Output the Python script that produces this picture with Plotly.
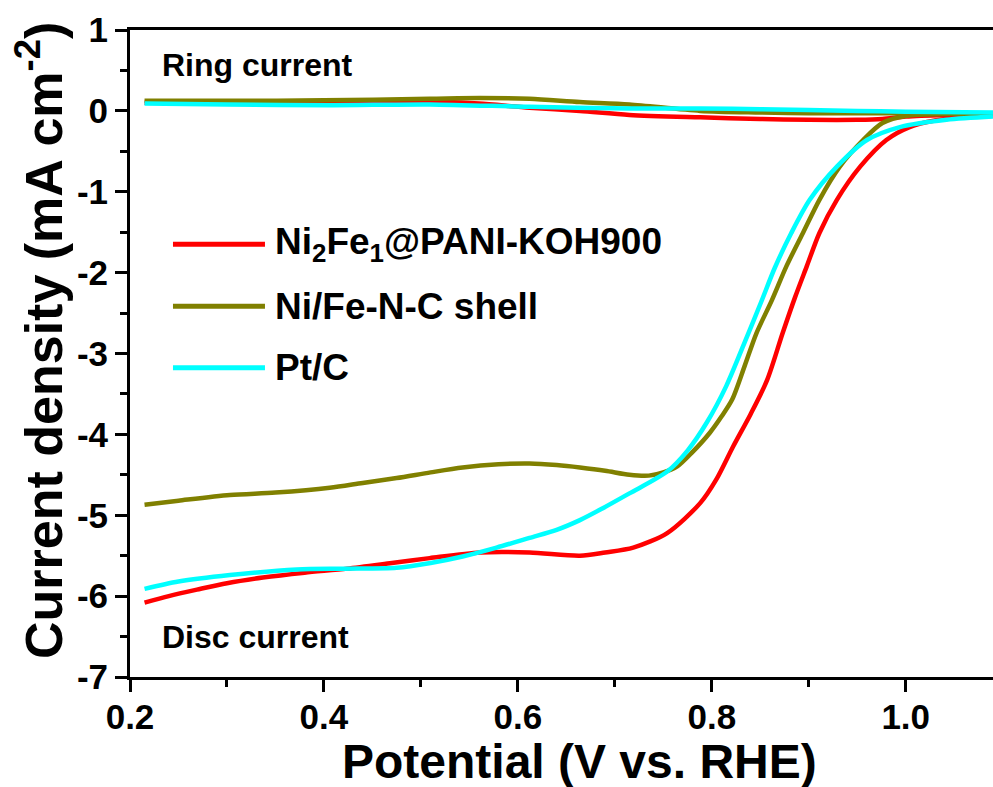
import plotly.graph_objects as go

# ---------------- data ----------------
red_disc_x = [0.215, 0.24, 0.269, 0.30, 0.337, 0.38, 0.424, 0.47, 0.509, 0.561, 0.612, 0.664, 0.69, 0.719,
              0.754, 0.788, 0.805, 0.822, 0.84, 0.857, 0.873, 0.886, 0.898, 0.911, 0.929, 0.953, 0.980,
              1.004, 1.03, 1.06, 1.09]
red_disc_y = [-6.08, -6.00, -5.92, -5.84, -5.77, -5.71, -5.66, -5.59, -5.53, -5.46, -5.46, -5.50, -5.46, -5.40,
              -5.22, -4.85, -4.55, -4.15, -3.75, -3.33, -2.75, -2.30, -1.92, -1.51, -1.10, -0.69, -0.36,
              -0.20, -0.12, -0.08, -0.06]

olive_disc_x = [0.215, 0.25, 0.303, 0.35, 0.406, 0.44, 0.475, 0.51, 0.543, 0.58, 0.612, 0.64, 0.664, 0.69,
                0.715, 0.735, 0.75, 0.764, 0.78, 0.798, 0.81, 0.821, 0.834, 0.846, 0.862, 0.877, 0.894,
                0.911, 0.932, 0.956, 0.976, 1.001, 1.04, 1.09]
olive_disc_y = [-4.87, -4.82, -4.75, -4.72, -4.66, -4.60, -4.54, -4.47, -4.41, -4.37, -4.36, -4.38, -4.41, -4.45,
                -4.50, -4.51, -4.47, -4.40, -4.22, -3.98, -3.78, -3.57, -3.15, -2.75, -2.34, -1.92, -1.51,
                -1.10, -0.69, -0.36, -0.15, -0.06, -0.04, -0.03]

cyan_disc_x = [0.215, 0.25, 0.303, 0.372, 0.42, 0.475, 0.51, 0.543, 0.578, 0.612, 0.64, 0.664, 0.685, 0.715,
               0.754, 0.775, 0.795, 0.815, 0.836, 0.851, 0.865, 0.882, 0.901, 0.929, 0.960, 0.994, 1.042, 1.09]
cyan_disc_y = [-5.91, -5.82, -5.74, -5.67, -5.66, -5.65, -5.59, -5.51, -5.40, -5.28, -5.18, -5.06, -4.93, -4.73,
               -4.46, -4.20, -3.85, -3.40, -2.80, -2.36, -1.94, -1.51, -1.10, -0.69, -0.36, -0.20, -0.11, -0.07]

red_ring_x = [0.215, 0.3, 0.4, 0.5, 0.527, 0.56, 0.612, 0.664, 0.715, 0.788, 0.85, 0.9, 0.95, 0.976, 1.0, 1.04, 1.09]
red_ring_y = [0.10, 0.10, 0.10, 0.11, 0.11, 0.09, 0.04, 0.0, -0.05, -0.08, -0.10, -0.11, -0.11, -0.10, -0.07, -0.05, -0.04]

olive_ring_x = [0.215, 0.3, 0.4, 0.509, 0.561, 0.612, 0.664, 0.715, 0.788, 0.85, 0.9, 1.0, 1.09]
olive_ring_y = [0.125, 0.125, 0.13, 0.15, 0.16, 0.15, 0.11, 0.08, 0.0, -0.02, -0.03, -0.03, -0.03]

cyan_ring_x = [0.215, 0.3, 0.406, 0.509, 0.612, 0.715, 0.788, 0.85, 0.95, 1.0, 1.09]
cyan_ring_y = [0.09, 0.08, 0.07, 0.08, 0.05, 0.03, 0.03, 0.02, 0.0, -0.01, -0.02]

series_names = ["Ni<sub>2</sub>Fe<sub>1</sub>@PANI-KOH900", "Ni/Fe-N-C shell", "Pt/C"]
series_colors = ["#FF0000", "#808000", "#00FFFF"]

x_tickvals = [0.2, 0.4, 0.6, 0.8, 1.0]
x_ticktext = ["0.2", "0.4", "0.6", "0.8", "1.0"]
y_tickvals = [1, 0, -1, -2, -3, -4, -5, -6, -7]
y_ticktext = ["1", "0", "-1", "-2", "-3", "-4", "-5", "-6", "-7"]

x_title = "Potential (V vs. RHE)"
y_title = "Current density (mA cm<sup>-2</sup>)"

FONT = "Liberation Sans, Arial, sans-serif"
LW = 4.5

fig = go.Figure()
data = [
    (red_disc_x, red_disc_y, red_ring_x, red_ring_y),
    (olive_disc_x, olive_disc_y, olive_ring_x, olive_ring_y),
    (cyan_disc_x, cyan_disc_y, cyan_ring_x, cyan_ring_y),
]
for (dx, dy, rx, ry), name, col in zip(data, series_names, series_colors):
    fig.add_trace(go.Scatter(x=rx, y=ry, mode="lines", name=name, showlegend=False,
                             line=dict(color=col, width=LW, shape="spline", smoothing=0.8)))
    fig.add_trace(go.Scatter(x=dx, y=dy, mode="lines", name=name, showlegend=False,
                             line=dict(color=col, width=LW, shape="spline", smoothing=0.8)))

# custom legend (long line samples)
leg_y = [0.669, 0.573, 0.478]
for name, col, yy in zip(series_names, series_colors, leg_y):
    fig.add_shape(type="line", xref="paper", yref="paper", x0=0.0498, x1=0.1564, y0=yy, y1=yy,
                  line=dict(color=col, width=5))
    fig.add_annotation(xref="paper", yref="paper", x=0.166, y=yy, text=name, showarrow=False,
                       xanchor="left", yanchor="middle",
                       font=dict(family=FONT, size=37, color="black", weight="bold"))

fig.add_annotation(xref="paper", yref="paper", x=0.035, y=0.946, text="Ring current", showarrow=False,
                   xanchor="left", yanchor="middle",
                   font=dict(family=FONT, size=32, color="black", weight="bold"))
fig.add_annotation(xref="paper", yref="paper", x=0.035, y=0.062, text="Disc current", showarrow=False,
                   xanchor="left", yanchor="middle",
                   font=dict(family=FONT, size=32, color="black", weight="bold"))

# axis titles placed as annotations to match the reference position
fig.add_annotation(xref="paper", yref="paper", x=0.521, y=-0.13, text=x_title, showarrow=False,
                   xanchor="center", yanchor="middle", borderpad=0,
                   font=dict(family=FONT, size=48, color="black", weight="bold"))
fig.add_annotation(xref="paper", yref="paper", x=-0.105, y=0.52, text=y_title, showarrow=False,
                   xanchor="center", yanchor="middle", textangle=-90,
                   font=dict(family=FONT, size=52, color="black", weight="bold"))

fig.update_layout(
    width=993, height=787,
    margin=dict(l=130, r=0, t=30, b=110),
    paper_bgcolor="white", plot_bgcolor="white",
    showlegend=False,
    font=dict(family=FONT, color="black"),
)
fig.update_xaxes(
    range=[0.2, 1.09], showgrid=False, zeroline=False,
    showline=True, linecolor="black", linewidth=3, mirror=True,
    ticks="outside", ticklen=12, tickwidth=3, tickcolor="black",
    tickvals=x_tickvals, ticktext=x_ticktext, ticklabelstandoff=-5,
    minor=dict(ticks="outside", ticklen=7, tickwidth=3, tickcolor="black", dtick=0.1, tick0=0.2, showgrid=False),
    tickfont=dict(family=FONT, size=35, color="black", weight="bold"),
)
fig.update_yaxes(
    range=[-7, 1], showgrid=False, zeroline=False,
    showline=True, linecolor="black", linewidth=3,
    ticks="outside", ticklen=12, tickwidth=3, tickcolor="black",
    tickvals=y_tickvals, ticktext=y_ticktext,
    minor=dict(ticks="outside", ticklen=7, tickwidth=3, tickcolor="black", dtick=0.5, tick0=0, showgrid=False),
    tickfont=dict(family=FONT, size=35, color="black", weight="bold"),
)

fig.write_html("out.html")
